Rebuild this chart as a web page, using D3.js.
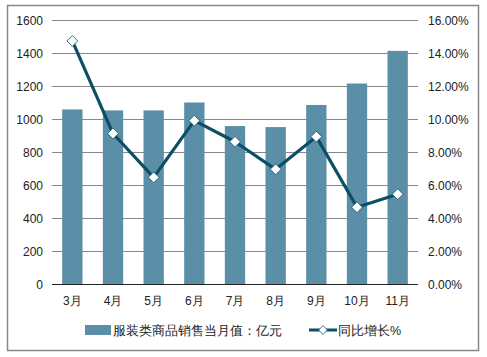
<!DOCTYPE html>
<html><head><meta charset="utf-8">
<script src="https://cdn.jsdelivr.net/npm/d3@7"></script>
<style>body{margin:0;background:#fff}svg{display:block}text{font-family:"Liberation Sans",Arial,sans-serif;fill:#222}</style>
</head><body>
<script>
const categories = ["3月","4月","5月","6月","7月","8月","9月","10月","11月"];
const salesValues = [1058, 1052, 1052, 1100, 957, 951, 1085, 1215, 1413];
const growthValues = [14.73, 9.12, 6.46, 9.90, 8.62, 6.95, 8.93, 4.65, 5.44];
const leftTicks = [0,200,400,600,800,1000,1200,1400,1600];
const rightTicks = [0,2,4,6,8,10,12,14,16];
const seriesNames = ["服装类商品销售当月值：亿元","同比增长%"];

const W=487,H=357;
const svg=d3.select("body").append("svg").attr("width",W).attr("height",H);
svg.append("rect").attr("x",7.5).attr("y",5.5).attr("width",471).attr("height",345)
  .attr("fill","#fff").attr("stroke","#888").attr("stroke-width",1.5);

const L=52,R=418,T=20,B=284;
const x=d3.scaleBand().domain(categories).range([L,R]).paddingInner(0.5).paddingOuter(0.25);
const yL=d3.scaleLinear().domain([0,1600]).range([B,T]);
const yR=d3.scaleLinear().domain([0,16]).range([B,T]);

// gridlines
svg.append("g").selectAll("line").data(leftTicks.filter(d=>d>0)).join("line")
  .attr("x1",L).attr("x2",R).attr("y1",d=>yL(d)+0.5).attr("y2",d=>yL(d)+0.5)
  .attr("stroke","#888").attr("stroke-width",1);

// left axis labels
svg.append("g").selectAll("text").data(leftTicks).join("text")
  .attr("x",43).attr("y",d=>yL(d)+4.5).attr("text-anchor","end").attr("font-size",12).text(d=>d);
// right axis labels
svg.append("g").selectAll("text").data(rightTicks).join("text")
  .attr("x",428).attr("y",d=>yR(d)+4.5).attr("text-anchor","start").attr("font-size",12).text(d=>d.toFixed(2)+"%");

// bars
svg.append("g").selectAll("rect").data(categories).join("rect")
  .attr("x",d=>x(d)).attr("width",x.bandwidth())
  .attr("y",(d,i)=>yL(salesValues[i])).attr("height",(d,i)=>B-yL(salesValues[i]))
  .attr("fill","#5b8fa8");

// axis line
svg.append("line").attr("x1",L).attr("x2",R).attr("y1",B+0.5).attr("y2",B+0.5).attr("stroke","#222").attr("stroke-width",1.2);

// category labels
svg.append("g").selectAll("text").data(categories).join("text")
  .attr("x",d=>x(d)+x.bandwidth()/2).attr("y",305).attr("text-anchor","middle").attr("font-size",12).text(d=>d);

// line
const cx=d=>x(d)+x.bandwidth()/2;
const line=d3.line().x((d,i)=>cx(categories[i])).y(d=>yR(d));
svg.append("path").datum(growthValues).attr("d",line).attr("fill","none")
  .attr("stroke","#0b4f66").attr("stroke-width",3.2).attr("stroke-linejoin","round");
const diamond=d3.symbol().type(d3.symbolDiamond2).size(75);
svg.append("g").selectAll("path").data(growthValues).join("path")
  .attr("d",diamond).attr("transform",(d,i)=>`translate(${cx(categories[i])},${yR(d)})`)
  .attr("fill","#fff").attr("stroke","#0b4f66").attr("stroke-width",0.8);

// legend
const lg=svg.append("g");
lg.append("rect").attr("x",85).attr("y",325).attr("width",26).attr("height",10).attr("fill","#5b8fa8");
lg.append("text").attr("x",113).attr("y",335).attr("font-size",12.5).text(seriesNames[0]);
lg.append("line").attr("x1",309).attr("x2",337).attr("y1",330).attr("y2",330).attr("stroke","#0b4f66").attr("stroke-width",3);
lg.append("path").attr("d",d3.symbol().type(d3.symbolDiamond2).size(50)).attr("transform","translate(323,330)")
  .attr("fill","#fff").attr("stroke","#0b4f66").attr("stroke-width",0.8);
lg.append("text").attr("x",338).attr("y",335).attr("font-size",12.5).text(seriesNames[1]);
</script>
</body></html>
